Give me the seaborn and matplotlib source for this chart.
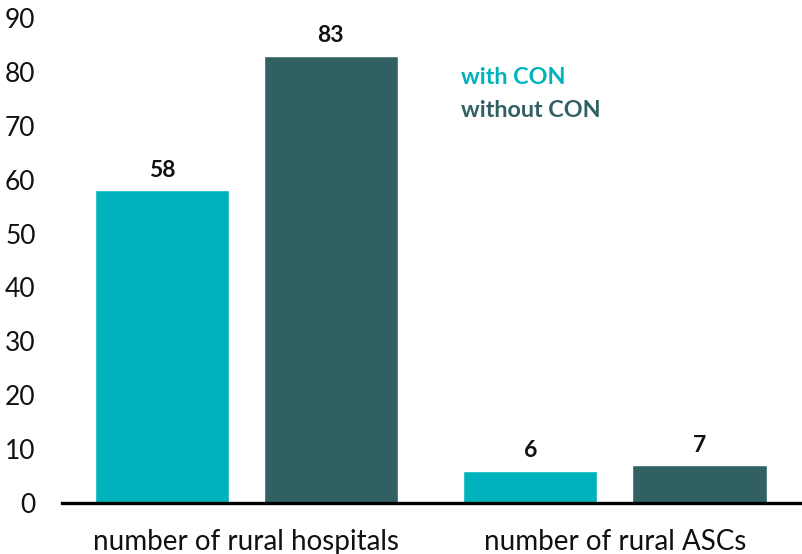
import pandas as pd
import matplotlib
matplotlib.use("Agg")
import matplotlib.pyplot as plt
import seaborn as sns

categories = ["number of rural hospitals", "number of rural ASCs"]
with_con = [58, 6]
without_con = [83, 7]
series = ["with CON", "without CON"]
colors = ["#00B2BB", "#316063"]

df = pd.DataFrame({
    "category": categories * 2,
    "value": with_con + without_con,
    "group": [series[0]] * 2 + [series[1]] * 2,
})

sns.set_style("white")
plt.rcParams["font.family"] = ["Lato", "DejaVu Sans"]

fig = plt.figure(figsize=(8.03, 5.54), dpi=100)
ax = fig.add_axes([62 / 803, 51 / 554, 741 / 803, 485 / 554])

sns.barplot(data=df, x="category", y="value", hue="group", palette=colors,
            width=0.917, gap=0.207, legend=False, ax=ax, saturation=1)

for cont in ax.containers:
    ax.bar_label(cont, padding=7, fontsize=16.5, fontweight="bold", color="#111111")

ax.set_ylim(0, 90)
ax.set_xlim(-0.5, 1.51)
ax.set_yticks(range(0, 91, 10))
ax.set_xlabel("")
ax.set_ylabel("")
ax.tick_params(axis="y", length=0, pad=19, labelsize=19, labelcolor="#111111")
ax.tick_params(axis="x", length=0, pad=19, labelsize=20, labelcolor="#111111")

for s in ["top", "right", "left"]:
    ax.spines[s].set_visible(False)
ax.spines["bottom"].set_linewidth(2.4)
ax.spines["bottom"].set_color("black")

# legend as coloured text
for i, name in enumerate(series):
    ax.text(0.538, 0.878 - i * 0.068, name, transform=ax.transAxes, color=colors[i],
            fontsize=16.8, fontweight="bold", va="center", ha="left")

fig.savefig("out.png", dpi=100)
